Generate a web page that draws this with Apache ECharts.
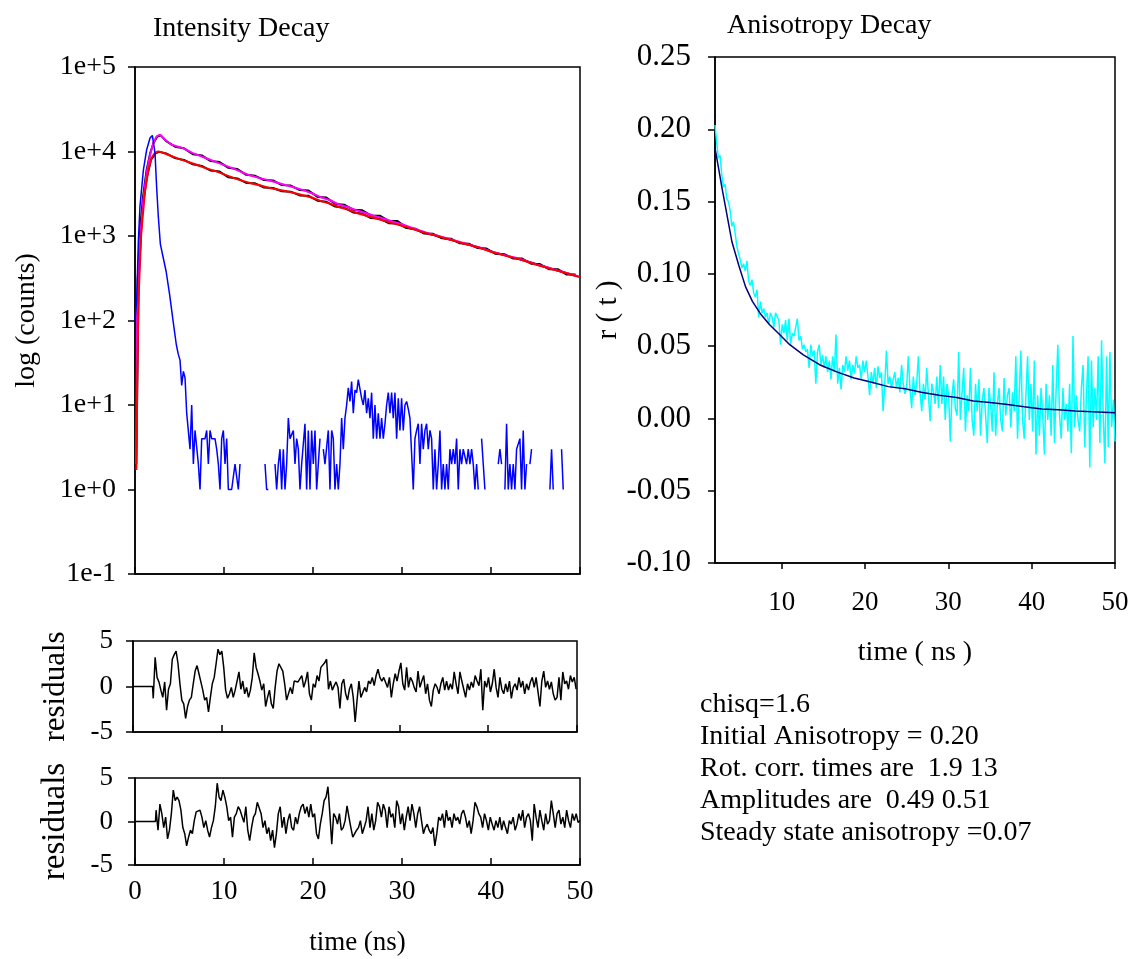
<!DOCTYPE html>
<html>
<head>
<meta charset="utf-8">
<script src="https://cdn.jsdelivr.net/npm/echarts@6/dist/echarts.min.js"></script>
<style>
html, body { margin: 0; padding: 0; background: #fff; }
#chart { width: 1133px; height: 959px; }
</style>
</head>
<body>
<div id="chart"></div>
<script>
// ---- intensity decay (counts vs time in ns) ----
const decades = [0.1, 1, 10, 100, 1000, 10000, 100000];

// lamp / instrument response, rising edge and fast fall
const irfTimes = [0, 0.19, 0.38, 0.56, 0.94, 1.31, 1.69, 1.95, 2.25, 2.43, 2.62, 2.85, 3.1, 3.5, 3.9, 4.3, 4.64, 4.86];
const irfCounts = [100, 174, 890, 2240, 6030, 10500, 14450, 15500, 9550, 3800, 1700, 800, 600, 380, 200, 95, 52, 40];
// lamp tail, evenly spaced channels from 5.06 to 49.8 ns (0 = empty channel)
const irfTailStart = 5.06, irfTailEnd = 49.8;
const irfTail = [
  34, 17, 25, 21, 8, 8, 3, 10, 2, 5,
  5, 2, 1, 4, 4, 4, 5, 2, 5, 4,
  4, 4, 3, 2, 1, 4, 5, 2, 4, 1,
  1, 1, 1, 2, 2, 1, 2, 0, 0, 0,
  2, 0, 0, 0, 0, 0, 0, 0, 0, 0,
  0, 2, 1, 1, 0, 0, 0, 2, 1, 2,
  3, 1, 3, 1, 2, 7, 4, 4, 5, 2,
  4, 3, 1, 2, 2, 6, 1, 5, 1, 5,
  2, 5, 1, 2, 4, 0, 3, 2, 2, 5,
  1, 5, 4, 1, 2, 1, 2, 7, 3, 7,
  10, 16, 11, 19, 8, 15, 14, 20, 20, 12,
  10, 15, 8, 12, 7, 14, 4, 10, 4, 8,
  4, 7, 4, 6, 10, 14, 8, 14, 7, 14,
  4, 12, 5, 12, 5, 10, 11, 9, 7, 7,
  1, 4, 5, 6, 2, 6, 3, 5, 6, 3,
  5, 4, 1, 3, 1, 2, 5, 1, 2, 1,
  2, 1, 3, 2, 3, 2, 4, 1, 3, 2,
  3, 3, 2, 3, 2, 3, 2, 1, 2, 1,
  0, 4, 2, 1, 0, 0, 0, 1, 0, 0,
  0, 2, 3, 2, 0, 1, 6, 1, 2, 1,
  2, 1, 3, 3, 4, 1, 5, 1, 2, 0,
  2, 3, 0, 0, 0, 0, 0, 0, 2, 0,
  0, 0, 1, 3, 1, 0, 0, 0, 0, 3,
  1, 0, 0, 0, 2, 0, 1, 0, 0, 0
];

// measured decay, parallel component (black)
const parTimes = [0.1, 0.3, 0.6, 0.9, 1.3, 1.7, 2.1, 2.5, 2.9,
  3.5, 4.5, 5.5, 6.5, 7.5, 8.5, 9.5, 10.5, 11.5, 12.5, 13.5, 14.5, 15.5, 16.5, 17.5, 18.5, 19.5,
  20.5, 21.5, 22.5, 23.5, 24.5, 25.5, 26.5, 27.5, 28.5, 29.5, 30.5, 31.5, 32.5, 33.5, 34.5, 35.5,
  36.5, 37.5, 38.5, 39.5, 40.5, 41.5, 42.5, 43.5, 44.5, 45.5, 46.5, 47.5, 48.5, 49.5];
const parCounts = [2, 300, 1300, 2900, 6000, 9500, 12800, 15000, 15500,
  13300, 11400, 10900, 9300, 9000, 7700, 7500, 6400, 6200, 5300, 5150, 4600, 4550, 4000, 3950, 3500, 3450,
  2900, 2850, 2400, 2350, 2050, 2020, 1750, 1740, 1510, 1500, 1260, 1190, 1090, 1030, 955, 900,
  835, 790, 735, 690, 630, 595, 555, 520, 485, 450, 418, 390, 362, 338];

// measured decay, perpendicular component (black)
const perpTimes = [0.15, 0.4, 0.8, 1.3, 1.8, 2.3, 2.7,
  3.5, 4.5, 5.5, 6.5, 7.5, 8.5, 9.5, 10.5, 11.5, 12.5, 13.5, 14.5, 15.5, 16.5, 17.5, 18.5, 19.5,
  20.5, 21.5, 22.5, 23.5, 24.5, 25.5, 26.5, 27.5, 28.5, 29.5, 30.5, 31.5, 32.5, 33.5, 34.5, 35.5,
  36.5, 37.5, 38.5, 39.5, 40.5, 41.5, 42.5, 43.5, 44.5, 45.5, 46.5, 47.5, 48.5, 49.5];
const perpCounts = [2, 300, 1900, 4800, 8000, 9500, 9900,
  9500, 8350, 7950, 7050, 6750, 5950, 5800, 4950, 4800, 4250, 4200, 3750, 3700, 3380, 3350, 3020, 2990,
  2620, 2540, 2230, 2160, 1900, 1850, 1630, 1610, 1420, 1410, 1240, 1220, 1070, 1060, 940, 930,
  820, 810, 720, 710, 615, 610, 540, 540, 470, 465, 405, 405, 350, 350];

// fitted parallel decay (magenta)
const parFitTimes = [0.12, 0.26, 0.56, 0.94, 1.31, 1.69, 2.06, 2.43, 2.81, 3.37, 4.12, 5.4, 6.5, 8, 9.5,
  11, 12, 13, 14, 15, 16, 17, 18, 19, 20, 21, 22, 23, 24, 25, 26, 27, 28, 29, 30,
  31, 32, 33, 34, 35, 36, 37, 38, 39, 40, 41, 42, 43, 44, 45, 46, 47, 48, 49, 50];
const parFit = [2, 170, 890, 2690, 5620, 9120, 12600, 15100, 15850, 13800, 12000, 10960, 9550, 8320, 7240,
  6310, 5690, 5190, 4840, 4570, 4270, 3980, 3720, 3470, 3160, 2850, 2630, 2340, 2190, 2000, 1860, 1720, 1600, 1480, 1380,
  1260, 1160, 1075, 1010, 940, 880, 820, 765, 715, 655, 615, 575, 545, 505, 465, 435, 405, 378, 352, 328];

// fitted perpendicular decay (red)
const perpFitTimes = [0.15, 0.25, 0.35, 0.45, 0.7, 1.1, 1.5, 1.85, 2.2, 2.6,
  3, 4, 5, 6, 7, 8, 9, 10, 11, 12, 13, 14, 15, 16, 17, 18, 19, 20, 21, 22, 23, 24, 25, 26,
  27, 28, 29, 30, 31, 32, 33, 34, 35, 36, 37, 38, 39, 40, 41, 42, 43, 44, 45, 46, 47, 48, 49, 50];
const perpFit = [1.7, 20, 90, 250, 1070, 3240, 6030, 8300, 9550, 10000,
  9800, 8900, 8130, 7500, 6920, 6310, 5890, 5370, 4900, 4520, 4220, 3980, 3720, 3550, 3390, 3200, 3020, 2820, 2570, 2400, 2190, 2040, 1860, 1740,
  1620, 1510, 1410, 1320, 1230, 1140, 1060, 1000, 930, 870, 810, 760, 710, 650, 610, 570, 540, 500, 460, 430, 400, 375, 350, 325];

// weighted residuals, evenly spaced after the flat start
const res1Start = 2.28, res1End = 49.9;
const res1 = [-1.3, 3.2, 1.0, 0.5, -0.4, -1.2, 0.5, -2.6, -0.3, 0.3, 3.0, 3.5, 3.9, 2.5, 0.3, -1.5, -1.9, -3.5, -2.2, -1.5,
  -1.2, 0.3, 1.7, 2.3, 1.4, 0.5, -0.4, -1.5, -1.2, -2.8, -1.2, 0.3, 1.0, 2.5, 4.1, 3.5, 3.9, 2.1, -0.4, -1.3,
  -0.8, -0.1, -1.2, -0.4, 0.6, 1.6, -0.3, 0.6, -0.8, -0.1, -1.2, -0.4, 1.0, 3.7, 2.1, 1.4, 0.6, -0.4, 0.3, -2.2,
  -1.2, -0.4, -1.9, -2.4, -0.1, 1.7, 2.5, 2.3, 1.7, 0.3, -1.5, -1.3, -0.1, -0.8, 0.6, 0.8, 0.5, 0.3, 1.2, -0.1,
  0.6, 1.6, -0.8, -1.5, 0.3, -0.1, 1.2, 0.6, 2.1, 2.3, 2.6, 3.0, -0.3, 0.6, -0.4, 0.1, 0.5, -0.1, -2.4, 0.3,
  0.8, -0.8, -1.5, -0.3, 0.3, -1.2, -3.9, -1.5, 0.6, -1.2, -1.0, -0.1, -0.6, 0.6, 0.3, 1.0, 0.1, 1.2, 1.9, 1.0,
  0.6, 1.0, 1.2, -0.1, 1.0, -1.2, 0.3, 1.4, 0.6, 1.7, 2.6, 0.3, -0.4, 2.1, -0.1, 1.0, 0.6, -0.1, -0.6, 1.7,
  -0.1, 0.6, 1.2, -0.8, 0.3, -1.5, -2.2, -0.4, 0.3, -0.1, -0.8, 0.3, 1.0, -0.4, 0.6, -0.4, 0.3, -0.3, 1.6, 0.3,
  -0.8, 1.6, 0.6, -0.3, -1.2, 0.3, -0.4, 0.5, -0.1, 1.2, 0.6, 0.1, 1.9, -2.6, 0.6, -0.1, 1.0, -0.6, 0.3, 1.9,
  -0.1, -1.2, 1.0, -0.3, -0.8, 0.3, -0.6, 0.6, -1.3, -0.1, 0.3, -0.4, 1.0, -0.1, 0.6, -0.8, 0.3, -0.4, 0.5, 1.0,
  -0.1, 1.0, -0.6, -2.2, 0.6, 1.7, -0.1, 0.6, -0.3, 0.5, -0.8, -1.5, -1.2, 1.0, -1.5, 1.6, 0.3, 0.6, -0.3, 1.2,
  0.5, 1.0, -0.3];
const res2Start = 2.37, res2End = 50;
const res2 = [1.3, -1.0, 2.0, 0.9, -0.7, 0.5, -2.0, -1.0, 0.9, 3.6, 2.4, 2.8, 2.4, 1.3, -0.7, -1.4, -2.8, -1.8, -1.0, -1.4,
  0.1, 1.1, 0.9, 1.3, 0.5, -0.7, 0.1, -1.0, -1.8, -0.7, 0.1, 1.7, 4.4, 2.8, 2.4, 3.6, 2.8, 1.7, 0.1, 0.5,
  -1.8, 0.5, 0.9, 1.7, 1.3, 1.5, -0.1, 1.7, -1.0, -2.2, -0.7, 0.5, 0.9, 2.2, 2.0, 0.9, -0.7, 0.1, -1.4, -0.7,
  -2.2, -1.0, -3.0, -1.4, 0.9, 1.7, -0.7, 0.5, -1.4, 0.1, 0.9, -0.7, -1.0, 0.5, -0.3, 0.9, 1.7, 2.0, 0.9, 1.7,
  0.5, 2.0, 0.5, 0.9, -1.4, -2.0, -0.3, 0.9, 2.4, 2.8, 4.0, 0.9, -2.6, 0.9, 0.5, -0.3, 0.9, -1.0, -0.7, 0.1,
  1.8, 0.5, -0.7, -1.8, -1.4, -1.0, -0.7, 0.1, -1.4, -0.7, 0.1, 1.7, -0.7, 0.9, -1.0, 0.1, 2.2, 1.7, 0.5, 2.0,
  1.3, -0.7, 1.7, 0.5, 0.9, -0.7, 2.4, 1.7, -0.3, 0.9, -1.0, 0.5, 1.7, 0.1, 2.0, 0.9, -0.7, 0.9, 1.7, 0.1,
  -1.4, -0.7, -0.3, -1.0, -1.4, -0.7, -2.8, -1.4, 0.5, 0.1, 0.9, -0.7, 1.3, 0.1, 0.5, -0.7, 0.9, 0.1, 0.5, -0.3,
  0.9, 1.3, 0.5, -0.7, 0.1, -1.4, 0.1, 2.2, 1.7, 0.9, 0.5, -0.7, 0.9, 0.1, -1.0, 0.5, -0.3, -1.0, 0.1, -0.7,
  0.5, -1.0, 0.1, -0.7, -1.4, 0.1, -0.3, 0.5, -1.0, -0.3, 0.9, 0.1, 1.3, -0.7, 0.5, 0.9, 0.1, -2.2, 2.0, 0.5,
  -0.7, 1.3, 0.1, -1.0, 0.9, -0.3, 0.1, 2.4, 0.9, -0.7, 0.9, 1.3, -0.3, 0.5, -0.7, 1.3, 0.1, -0.7, 0.9, 0.1,
  0.9, -0.1, 0.1];

// ---- anisotropy decay ----
const rDataStart = 2.0, rDataEnd = 50;
const rData = [0.203, 0.191, 0.180, 0.182, 0.169, 0.160, 0.162, 0.152, 0.150, 0.144, 0.133, 0.136, 0.128, 0.119, 0.114,
  0.110, 0.104, 0.107, 0.102, 0.109, 0.095, 0.092, 0.096, 0.087, 0.084, 0.089, 0.070, 0.081, 0.073, 0.076,
  0.070, 0.073, 0.065, 0.073, 0.070, 0.063, 0.073, 0.073, 0.068, 0.051, 0.065, 0.059, 0.068, 0.054, 0.069,
  0.051, 0.059, 0.057, 0.058, 0.069, 0.054, 0.057, 0.048, 0.051, 0.046, 0.048, 0.035, 0.051, 0.043, 0.047,
  0.024, 0.046, 0.051, 0.037, 0.044, 0.035, 0.043, 0.032, 0.040, 0.027, 0.043, 0.032, 0.058, 0.024, 0.035,
  0.020, 0.037, 0.032, 0.043, 0.033, 0.040, 0.027, 0.037, 0.031, 0.043, 0.035, 0.037, 0.027, 0.040, 0.032,
  0.040, 0.029, 0.016, 0.032, 0.024, 0.035, 0.021, 0.036, 0.028, 0.032, 0.005, 0.024, 0.047, 0.024, 0.029,
  0.021, 0.027, 0.032, 0.021, 0.028, 0.018, 0.037, 0.024, 0.017, 0.021, 0.043, 0.021, 0.007, 0.029, 0.016,
  0.024, 0.043, 0.018, 0.005, 0.024, 0.013, 0.035, 0.016, -0.002, 0.024, 0.018, 0.010, 0.029, 0.007, 0.037,
  0.010, 0.029, -0.001, 0.024, 0.016, -0.016, 0.016, 0.027, 0.007, 0.002, 0.046, -0.001, 0.018, 0.035, -0.009,
  0.016, 0.005, 0.035, -0.001, -0.012, 0.024, 0.005, 0.027, -0.012, 0.013, 0.021, 0.002, -0.017, 0.021, 0.010,
  -0.009, 0.032, -0.012, 0.010, 0.021, -0.001, -0.009, 0.028, 0.002, 0.016, 0.021, -0.006, 0.018, 0.005, 0.043,
  -0.014, 0.016, 0.047, -0.001, -0.014, 0.016, 0.043, -0.001, 0.024, -0.009, 0.040, -0.025, 0.016, -0.012, 0.021,
  0.002, -0.025, 0.024, -0.001, 0.016, -0.012, 0.037, -0.017, 0.021, 0.051, 0.002, -0.014, 0.021, -0.001, 0.010,
  -0.009, 0.024, -0.024, 0.057, -0.006, 0.016, -0.001, -0.009, 0.021, 0.037, -0.020, 0.016, 0.043, -0.034, 0.040,
  -0.006, 0.021, -0.001, 0.043, -0.017, 0.054, 0.002, -0.031, 0.043, -0.020, 0.046, -0.006, 0.013, -0.016];
const rFitTimes = [2.0, 2.4, 2.82, 3.43, 4.04, 4.85, 5.67, 6.49, 7.5, 8.53, 9.75, 10.97, 12.6, 14.6, 16.7, 18.7,
  20.8, 22.8, 24.8, 26.9, 28.9, 31.0, 33.0, 35.0, 37.1, 39.1, 41.2, 43.2, 45.2, 47.3, 50];
const rFit = [0.187, 0.174, 0.160, 0.141, 0.122, 0.106, 0.091, 0.081, 0.072, 0.065, 0.058, 0.051, 0.044, 0.037, 0.032, 0.028,
  0.025, 0.022, 0.0205, 0.018, 0.016, 0.0145, 0.012, 0.011, 0.0096, 0.008, 0.0066, 0.006, 0.0052, 0.0046, 0.004];

const timeTicks = [10, 20, 30, 40, 50];
const statsLines = [
  'chisq=1.6',
  'Initial Anisotropy = 0.20',
  'Rot. corr. times are  1.9 13',
  'Amplitudes are  0.49 0.51',
  'Steady state anisotropy =0.07'
];

// helpers
function zip(ts, vs) {
  return ts.map((t, i) => [t, vs[i]]);
}
function spread(vs, t0, t1) {
  const n = vs.length;
  return vs.map((v, i) => [t0 + (t1 - t0) * i / (n - 1), v]);
}

const FONT = 'Liberation Serif';
const black = '#000';

const irfData = zip(irfTimes, irfCounts)
  .concat(spread(irfTail, irfTailStart, irfTailEnd))
  .map(p => [p[0], p[1] > 0 ? p[1] : null]);
const res1Data = [[0, 0], [2.2, 0]].concat(spread(res1, res1Start, res1End));
const res2Data = [[0, 0], [2.3, 0]].concat(spread(res2, res2Start, res2End));

function frame() {
  return { show: true, borderColor: black, borderWidth: 1.5, backgroundColor: 'transparent' };
}
function line(xi, yi, data, color, width, z) {
  return {
    type: 'line', xAxisIndex: xi, yAxisIndex: yi, data: data,
    showSymbol: false, connectNulls: false, z: z || 2,
    lineStyle: { color: color, width: width },
    emphasis: { disabled: true }
  };
}
const axisLine = { show: true, onZero: false, lineStyle: { color: black, width: 1.5 } };
const titleStyle = { fontFamily: FONT, fontSize: 28, fontWeight: 'normal', color: black };

const chart = echarts.init(document.getElementById('chart'), null, { renderer: 'canvas' });
const option = {
  animation: false,
  backgroundColor: '#fff',
  textStyle: { fontFamily: FONT, color: black },
  title: [
    { text: 'Intensity Decay', left: 153, top: 15, padding: 0, textStyle: titleStyle },
    { text: 'Anisotropy Decay', left: 727, top: 12, padding: 0, textStyle: titleStyle }
  ],
  graphic: [{
    type: 'text', left: 700, top: 689,
    style: { text: statsLines.join('\n'), font: '28px "Liberation Serif"', lineHeight: 32, fill: black }
  }],
  grid: [
    Object.assign({ left: 135, top: 67, width: 445, height: 507 }, frame()),
    Object.assign({ left: 133, top: 641, width: 444, height: 91 }, frame()),
    Object.assign({ left: 135, top: 778, width: 445, height: 87 }, frame()),
    Object.assign({ left: 715, top: 57, width: 400, height: 506 }, frame())
  ],
  xAxis: [
    { gridIndex: 0, type: 'value', min: 0, max: 50, interval: 10, axisLine: axisLine,
      axisTick: { inside: true, length: 7, lineStyle: { color: black, width: 1.5 } },
      axisLabel: { show: false }, splitLine: { show: false } },
    { gridIndex: 1, type: 'value', min: 0, max: 50, interval: 10, axisLine: axisLine,
      axisTick: { inside: true, length: 7, lineStyle: { color: black, width: 1.5 } },
      axisLabel: { show: false }, splitLine: { show: false } },
    { gridIndex: 2, type: 'value', min: 0, max: 50, interval: 10, axisLine: axisLine,
      axisTick: { inside: true, length: 7, lineStyle: { color: black, width: 1.5 } },
      axisLabel: { fontSize: 27, fontFamily: FONT, color: black, margin: 13 },
      splitLine: { show: false },
      name: 'time (ns)', nameLocation: 'middle', nameGap: 64,
      nameTextStyle: { fontSize: 27, fontFamily: FONT, color: black } },
    { gridIndex: 3, type: 'value', min: 2, max: 50, axisLine: axisLine,
      axisTick: { customValues: timeTicks, length: 6, lineStyle: { color: black, width: 1.5 } },
      axisLabel: { customValues: timeTicks, fontSize: 27, fontFamily: FONT, color: black, margin: 26 },
      splitLine: { show: false },
      name: 'time ( ns )', nameLocation: 'middle', nameGap: 76,
      nameTextStyle: { fontSize: 28, fontFamily: FONT, color: black } }
  ],
  yAxis: [
    { gridIndex: 0, type: 'log', logBase: 10, min: 0.1, max: 100000, axisLine: axisLine,
      axisTick: { customValues: decades, length: 7, lineStyle: { color: black, width: 1.5 } },
      axisLabel: { customValues: decades, fontSize: 28, fontFamily: FONT, color: black, margin: 19,
        formatter: function (v) {
          const e = Math.round(Math.log10(v));
          return '1e' + (e < 0 ? '-' : '+') + Math.abs(e);
        } },
      splitLine: { show: false },
      name: 'log (counts)', nameLocation: 'middle', nameGap: 94, nameRotate: 90,
      nameTextStyle: { fontSize: 28, fontFamily: FONT, color: black } },
    { gridIndex: 1, type: 'value', min: -5, max: 5, interval: 5, axisLine: axisLine,
      axisTick: { length: 7, lineStyle: { color: black, width: 1.5 } },
      axisLabel: { fontSize: 27, fontFamily: FONT, color: black, margin: 20 },
      splitLine: { show: false },
      name: 'residuals', nameLocation: 'middle', nameGap: 62, nameRotate: 90,
      nameTextStyle: { fontSize: 31, fontFamily: FONT, color: black } },
    { gridIndex: 2, type: 'value', min: -5, max: 5, interval: 5, axisLine: axisLine,
      axisTick: { length: 7, lineStyle: { color: black, width: 1.5 } },
      axisLabel: { fontSize: 27, fontFamily: FONT, color: black, margin: 22 },
      splitLine: { show: false },
      name: 'residuals', nameLocation: 'middle', nameGap: 63, nameRotate: 90,
      nameTextStyle: { fontSize: 33, fontFamily: FONT, color: black } },
    { gridIndex: 3, type: 'value', min: -0.1, max: 0.25, interval: 0.05, axisLine: axisLine,
      axisTick: { length: 7, lineStyle: { color: black, width: 1.5 } },
      axisLabel: { fontSize: 31, fontFamily: FONT, color: black, margin: 24,
        formatter: function (v) { return v.toFixed(2); } },
      splitLine: { show: false },
      name: 'r ( t )', nameLocation: 'middle', nameGap: 85, nameRotate: 90,
      nameTextStyle: { fontSize: 29, fontFamily: FONT, color: black } }
  ],
  series: [
    line(0, 0, zip(parTimes, parCounts), black, 2, 2),
    line(0, 0, zip(perpTimes, perpCounts), black, 2, 2),
    line(0, 0, zip(parFitTimes, parFit), '#ff00ff', 2, 3),
    line(0, 0, zip(perpFitTimes, perpFit), '#ff0000', 2, 4),
    line(0, 0, irfData, '#0000ff', 1.5, 5),
    line(1, 1, res1Data, black, 1.5, 2),
    line(2, 2, res2Data, black, 1.5, 2),
    line(3, 3, spread(rData, rDataStart, rDataEnd), '#00ffff', 1.5, 2),
    line(3, 3, zip(rFitTimes, rFit), '#000080', 1.5, 3)
  ]
};
chart.setOption(option);
</script>
</body>
</html>
